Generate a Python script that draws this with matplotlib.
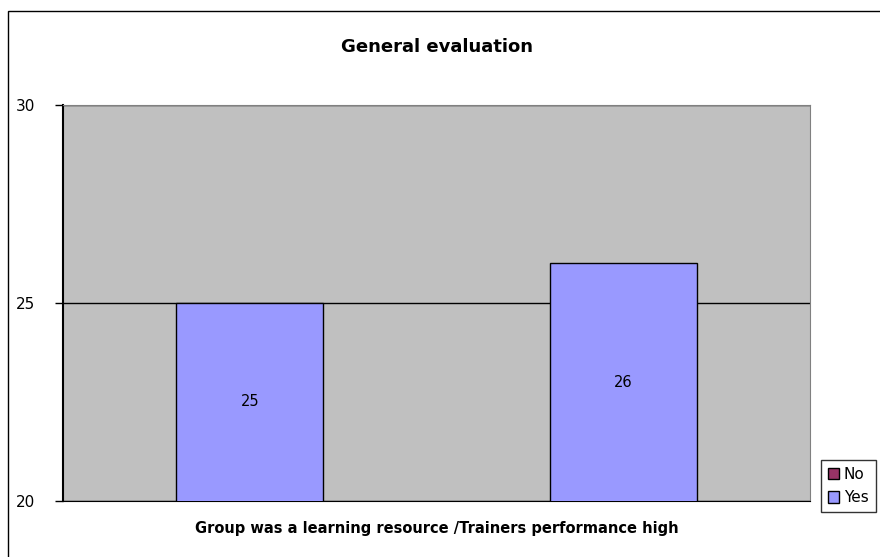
import numpy as np
import matplotlib
matplotlib.use("Agg")
from matplotlib import pyplot as plt
from matplotlib.patches import Rectangle, Patch

# chart data
positions = [0, 1]
yes_values = [25, 26]
series_names = ["No", "Yes"]
series_colors = ["#993366", "#9999FF"]
yticks = [20, 25, 30]

W, H = 880, 557
fig = plt.figure(figsize=(W/100, H/100), dpi=100)
fig.patch.set_facecolor("white")

# outer chart frame (runs off the right/bottom edges)
fig.patches.append(Rectangle((8/W, -0.05), 1.0, 1 - 11/H + 0.05, transform=fig.transFigure,
                             fill=False, edgecolor="black", linewidth=1.0))

ax = fig.add_axes([63/W, (H-501)/H, (810-63)/W, (501-105)/H])
ax.set_facecolor("#C0C0C0")

bars = ax.bar(positions, yes_values, width=0.394, color=series_colors[1],
              edgecolor="black", linewidth=1.0, zorder=3)
for b, v in zip(bars, yes_values):
    ax.text(b.get_x() + b.get_width()/2, (20 + v)/2, str(v), ha="center", va="center",
            fontsize=10.5, zorder=4)

ax.set_xlim(-0.5, 1.5)
ax.set_ylim(20, 30)
ax.set_yticks(yticks)
ax.set_yticklabels([str(t) for t in yticks], fontsize=11)
ax.set_xticks([])
ax.yaxis.grid(True, color="black", linewidth=1.0, zorder=1)
ax.set_axisbelow(True)
ax.tick_params(axis="y", length=6, width=1, pad=14)

for s in ["top", "right"]:
    ax.spines[s].set_color("#808080")
ax.spines["left"].set_color("black")
ax.spines["bottom"].set_color("black")
ax.spines["left"].set_linewidth(1.5)

fig.text((63+810)/2/W, 1 - 47/H, "General evaluation", ha="center", va="center",
         fontsize=13, fontweight="bold")
fig.text((63+810)/2/W, 1 - 528/H, "Group was a learning resource /Trainers performance high",
         ha="center", va="center", fontsize=10.5, fontweight="bold")

handles = [Patch(facecolor=c, edgecolor="black", label=n) for c, n in zip(series_colors, series_names)]
leg = fig.legend(handles=handles, loc="upper left", bbox_to_anchor=(821/W, 1 - 460/H),
                 frameon=True, fancybox=False, fontsize=11, handlelength=0.75, handleheight=0.75,
                 handletextpad=0.3, borderpad=0.45, labelspacing=0.55, borderaxespad=0)
leg.get_frame().set_edgecolor("black")
leg.get_frame().set_linewidth(1.0)

fig.savefig("out.png", dpi=100)
